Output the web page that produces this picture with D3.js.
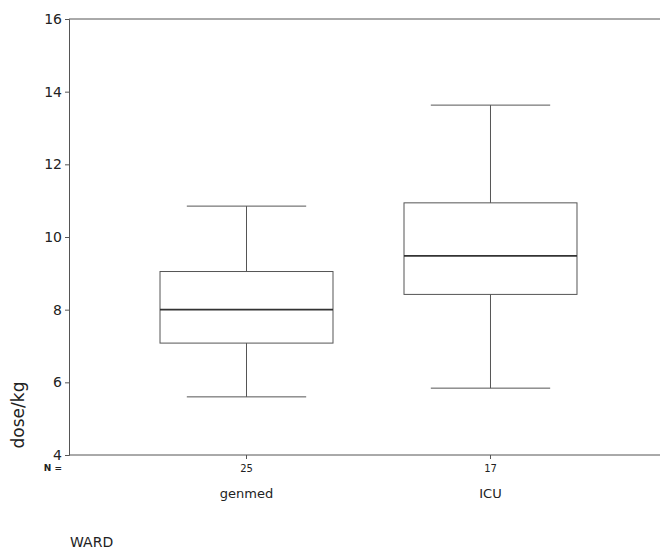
<!DOCTYPE html>
<html><head><meta charset="utf-8">
<script src="https://cdn.jsdelivr.net/npm/d3@7"></script>
<style>body{margin:0;background:#fff}svg{display:block}</style>
</head><body>
<svg id="c" width="660" height="553"></svg>
<script>
const categories = ["genmed", "ICU"];
const nCounts = [25, 17];
const whiskerLow = [5.6, 5.84];
const q1 = [7.08, 8.42];
const median = [8.0, 9.48];
const q3 = [9.05, 10.94];
const whiskerHigh = [10.85, 13.63];
const yTicks = [4, 6, 8, 10, 12, 14, 16];

const svg = d3.select("#c");
const m = {left: 69, top: 19, right: 660, bottom: 455};
const y = d3.scaleLinear().domain([4, 16]).range([m.bottom, m.top]);
const x = d3.scaleBand().domain(categories).range([m.left, 668]).paddingInner(0.291).paddingOuter(0.373);
const font = "DejaVu Sans, Verdana, sans-serif";
const col = "#555";

// frame
svg.append("line").attr("x1", m.left).attr("x2", 660).attr("y1", m.top).attr("y2", m.top).attr("stroke", col);
svg.append("line").attr("x1", m.left).attr("x2", 660).attr("y1", m.bottom).attr("y2", m.bottom).attr("stroke", col);

// y axis
const yAxis = d3.axisLeft(y).tickValues(yTicks).tickSize(4).tickPadding(3).tickFormat(d3.format("d"));
const ya = svg.append("g").attr("transform", `translate(${m.left},0)`).call(yAxis);
ya.select(".domain").attr("stroke", col);
ya.selectAll(".tick line").attr("stroke", col);
ya.selectAll(".tick text").attr("font-family", font).attr("font-size", 14).attr("fill", "#222");

// x axis ticks with N counts
const xa = svg.append("g").attr("transform", `translate(0,${m.bottom})`)
  .call(d3.axisBottom(x).tickSize(4).tickPadding(6).tickFormat((d, i) => nCounts[i]));
xa.select(".domain").remove();
xa.selectAll(".tick line").attr("stroke", col);
xa.selectAll(".tick text").attr("font-family", font).attr("font-size", 10).attr("fill", "#222");

svg.append("text").attr("x", 62).attr("y", 471).attr("text-anchor", "end")
  .attr("font-family", font).attr("font-size", 9).attr("font-weight", "bold").attr("fill", "#222").text("N =");

// category labels
svg.selectAll("text.cat").data(categories).enter().append("text").attr("class", "cat")
  .attr("x", d => x(d) + x.bandwidth() / 2).attr("y", 498).attr("text-anchor", "middle")
  .attr("font-family", font).attr("font-size", 13).attr("fill", "#222").text(d => d);

// y label
svg.append("text").attr("transform", "translate(24,415) rotate(-90)").attr("text-anchor", "middle")
  .attr("font-family", font).attr("font-size", 17).attr("fill", "#222").text("dose/kg");

// WARD
svg.append("text").attr("x", 70).attr("y", 547).attr("font-family", font).attr("font-size", 14).attr("fill", "#222").text("WARD");

// boxes
const g = svg.append("g");
categories.forEach((c, i) => {
  const x0 = x(c), w = x.bandwidth(), cx = x0 + w / 2, capW = w * 0.69;
  g.append("line").attr("x1", cx).attr("x2", cx).attr("y1", y(whiskerHigh[i])).attr("y2", y(q3[i])).attr("stroke", col);
  g.append("line").attr("x1", cx).attr("x2", cx).attr("y1", y(q1[i])).attr("y2", y(whiskerLow[i])).attr("stroke", col);
  g.append("line").attr("x1", cx - capW / 2).attr("x2", cx + capW / 2).attr("y1", y(whiskerHigh[i])).attr("y2", y(whiskerHigh[i])).attr("stroke", col);
  g.append("line").attr("x1", cx - capW / 2).attr("x2", cx + capW / 2).attr("y1", y(whiskerLow[i])).attr("y2", y(whiskerLow[i])).attr("stroke", col);
  g.append("rect").attr("x", x0).attr("y", y(q3[i])).attr("width", w).attr("height", y(q1[i]) - y(q3[i]))
    .attr("fill", "none").attr("stroke", col);
  g.append("line").attr("x1", x0).attr("x2", x0 + w).attr("y1", y(median[i])).attr("y2", y(median[i])).attr("stroke", "#333").attr("stroke-width", 1.6);
});
</script>
</body></html>
